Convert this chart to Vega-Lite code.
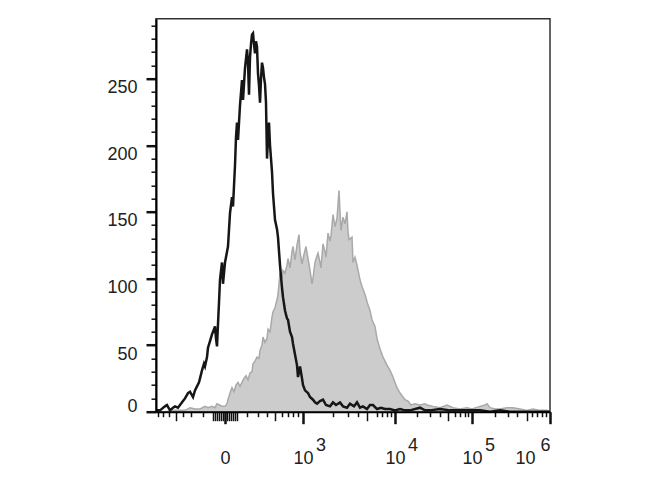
{
  "$schema": "https://vega.github.io/schema/vega-lite/v6.json",
  "width": 394,
  "height": 393,
  "autosize": {"type": "none"},
  "padding": {"left": 156, "top": 18.7, "right": 120, "bottom": 88.3},
  "background": "#ffffff",
  "config": {"view": {"stroke": "#333333", "strokeWidth": 1.5}},
  "datasets": {
    "stained": [
      {"channel":0,"count":0},{"channel":22.5,"count":0},{"channel":47.5,"count":1},{"channel":72.5,"count":1},{"channel":85,"count":3},{"channel":97.5,"count":2},{"channel":110,"count":2},{"channel":122.5,"count":4},{"channel":130,"count":3},{"channel":140,"count":4},{"channel":147.5,"count":3},{"channel":152.5,"count":6},{"channel":160,"count":5},{"channel":165,"count":4},{"channel":172.5,"count":4},{"channel":177.5,"count":6},{"channel":180,"count":9},{"channel":185,"count":14},{"channel":190,"count":18},{"channel":195,"count":15},{"channel":200,"count":20},{"channel":205,"count":22},{"channel":210,"count":19},{"channel":215,"count":22},{"channel":220,"count":25},{"channel":225,"count":27},{"channel":230,"count":24},{"channel":235,"count":29},{"channel":240,"count":30},{"channel":242.5,"count":36},{"channel":247.5,"count":38},{"channel":252.5,"count":41},{"channel":257.5,"count":40},{"channel":260,"count":46},{"channel":265,"count":50},{"channel":267.5,"count":56},{"channel":272.5,"count":52},{"channel":277.5,"count":55},{"channel":280,"count":62},{"channel":285,"count":60},{"channel":290,"count":71},{"channel":292.5,"count":75},{"channel":297.5,"count":78},{"channel":302.5,"count":84},{"channel":305,"count":88},{"channel":310,"count":104},{"channel":315,"count":100},{"channel":317.5,"count":106},{"channel":322.5,"count":104},{"channel":327.5,"count":110},{"channel":330,"count":115},{"channel":335,"count":108},{"channel":340,"count":120},{"channel":342.5,"count":124},{"channel":347.5,"count":114},{"channel":352.5,"count":125},{"channel":357.5,"count":133},{"channel":360,"count":120},{"channel":365,"count":111},{"channel":370,"count":118},{"channel":375,"count":124},{"channel":380,"count":115},{"channel":385,"count":106},{"channel":390,"count":96},{"channel":392.5,"count":100},{"channel":397.5,"count":112},{"channel":402.5,"count":117},{"channel":405,"count":119},{"channel":410,"count":112},{"channel":412.5,"count":108},{"channel":417.5,"count":126},{"channel":422.5,"count":120},{"channel":425,"count":116},{"channel":430,"count":134},{"channel":435,"count":128},{"channel":437.5,"count":132},{"channel":442.5,"count":148},{"channel":447.5,"count":139},{"channel":452.5,"count":145},{"channel":457.5,"count":166},{"channel":460,"count":150},{"channel":462.5,"count":136},{"channel":467.5,"count":146},{"channel":472.5,"count":141},{"channel":477.5,"count":150},{"channel":480,"count":135},{"channel":482.5,"count":129},{"channel":490,"count":131},{"channel":492.5,"count":112},{"channel":497.5,"count":116},{"channel":502.5,"count":110},{"channel":510,"count":99},{"channel":515,"count":94},{"channel":522.5,"count":88},{"channel":530,"count":80},{"channel":535,"count":76},{"channel":540,"count":69},{"channel":547.5,"count":64},{"channel":552.5,"count":55},{"channel":560,"count":47},{"channel":567.5,"count":41},{"channel":572.5,"count":38},{"channel":577.5,"count":35},{"channel":585,"count":31},{"channel":592.5,"count":26},{"channel":597.5,"count":22},{"channel":602.5,"count":18},{"channel":610,"count":14},{"channel":617.5,"count":11},{"channel":622.5,"count":9},{"channel":630,"count":8},{"channel":637.5,"count":5},{"channel":647.5,"count":6},{"channel":660,"count":5},{"channel":672.5,"count":6},{"channel":677.5,"count":5},{"channel":692.5,"count":4},{"channel":710,"count":3},{"channel":727.5,"count":5},{"channel":742.5,"count":3},{"channel":760,"count":2},{"channel":777.5,"count":3},{"channel":790,"count":2},{"channel":810,"count":4},{"channel":822.5,"count":5},{"channel":827.5,"count":6},{"channel":835,"count":3},{"channel":847.5,"count":2},{"channel":860,"count":2},{"channel":877.5,"count":3},{"channel":892.5,"count":3},{"channel":910,"count":2},{"channel":927.5,"count":1},{"channel":942.5,"count":2},{"channel":960,"count":1},{"channel":977.5,"count":1},{"channel":985,"count":0}
    ],
    "control": [
      {"channel":0,"count":1},{"channel":10,"count":1},{"channel":22.5,"count":4},{"channel":27.5,"count":5},{"channel":35,"count":1},{"channel":42.5,"count":3},{"channel":47.5,"count":4},{"channel":55,"count":3},{"channel":60,"count":5},{"channel":67.5,"count":8},{"channel":72.5,"count":10},{"channel":80,"count":14},{"channel":85,"count":15},{"channel":92.5,"count":11},{"channel":97.5,"count":16},{"channel":102.5,"count":19},{"channel":107.5,"count":22},{"channel":110,"count":25},{"channel":115,"count":31},{"channel":120,"count":36},{"channel":122.5,"count":34},{"channel":127.5,"count":41},{"channel":130,"count":48},{"channel":135,"count":53},{"channel":140,"count":58},{"channel":145,"count":62},{"channel":147.5,"count":64},{"channel":150,"count":55},{"channel":152.5,"count":49},{"channel":155,"count":66},{"channel":157.5,"count":82},{"channel":160,"count":99},{"channel":165,"count":112},{"channel":167.5,"count":96},{"channel":172.5,"count":112},{"channel":177.5,"count":120},{"channel":180,"count":124},{"channel":185,"count":149},{"channel":190,"count":161},{"channel":192.5,"count":154},{"channel":197.5,"count":185},{"channel":200,"count":206},{"channel":202.5,"count":217},{"channel":205,"count":204},{"channel":210,"count":230},{"channel":215,"count":249},{"channel":217.5,"count":234},{"channel":222.5,"count":258},{"channel":227.5,"count":272},{"channel":230,"count":262},{"channel":232.5,"count":238},{"channel":235,"count":266},{"channel":237.5,"count":276},{"channel":240,"count":283},{"channel":242.5,"count":284},{"channel":245,"count":276},{"channel":247.5,"count":269},{"channel":250,"count":278},{"channel":252.5,"count":274},{"channel":255,"count":254},{"channel":257.5,"count":245},{"channel":260,"count":232},{"channel":262.5,"count":250},{"channel":265,"count":262},{"channel":267.5,"count":258},{"channel":270,"count":251},{"channel":272.5,"count":246},{"channel":275,"count":232},{"channel":277.5,"count":190},{"channel":280,"count":205},{"channel":282.5,"count":217},{"channel":285,"count":200},{"channel":290,"count":180},{"channel":292.5,"count":164},{"channel":297.5,"count":144},{"channel":302.5,"count":137},{"channel":305,"count":131},{"channel":310,"count":110},{"channel":315,"count":93},{"channel":317.5,"count":86},{"channel":322.5,"count":76},{"channel":327.5,"count":70},{"channel":330,"count":69},{"channel":335,"count":60},{"channel":340,"count":56},{"channel":342.5,"count":51},{"channel":347.5,"count":43},{"channel":352.5,"count":35},{"channel":355,"count":26},{"channel":357.5,"count":30},{"channel":360,"count":34},{"channel":365,"count":25},{"channel":367.5,"count":20},{"channel":372.5,"count":16},{"channel":380,"count":14},{"channel":385,"count":11},{"channel":392.5,"count":9},{"channel":397.5,"count":7},{"channel":402.5,"count":6},{"channel":410,"count":8},{"channel":417.5,"count":9},{"channel":425,"count":5},{"channel":435,"count":4},{"channel":442.5,"count":7},{"channel":450,"count":5},{"channel":460,"count":7},{"channel":467.5,"count":4},{"channel":477.5,"count":3},{"channel":485,"count":6},{"channel":495,"count":4},{"channel":502.5,"count":7},{"channel":510,"count":3},{"channel":517.5,"count":4},{"channel":527.5,"count":2},{"channel":535,"count":5},{"channel":542.5,"count":5},{"channel":552.5,"count":2},{"channel":562.5,"count":3},{"channel":572.5,"count":2},{"channel":585,"count":2},{"channel":597.5,"count":1},{"channel":610,"count":2},{"channel":622.5,"count":1},{"channel":635,"count":1},{"channel":660,"count":3},{"channel":672.5,"count":1},{"channel":685,"count":1},{"channel":710,"count":2},{"channel":735,"count":1},{"channel":760,"count":1},{"channel":785,"count":1},{"channel":810,"count":1},{"channel":835,"count":0},{"channel":860,"count":1},{"channel":885,"count":0},{"channel":910,"count":0},{"channel":935,"count":0},{"channel":960,"count":0},{"channel":985,"count":0}
    ]
  },
  "encoding": {
    "x": {
      "field": "channel", "type": "quantitative",
      "scale": {"domain": [0, 985], "nice": false, "zero": false},
      "axis": {
        "title": null,
        "grid": false,
        "zindex": 1,
        "values": [5,17.5,32.5,50,67.5,87.5,117.5,142.5,147.5,152.5,157.5,162.5,167.5,172.5,177.5,182.5,187.5,192.5,197.5,202.5,227.5,255,277.5,297.5,315,330,342.5,355,367.5,442.5,480,505,527.5,552.5,565,577.5,587.5,597.5,652.5,685,710,730,747.5,760,772.5,780,790,847.5,880,902.5,927.5,940,952.5,965,975,985],
        "domainColor": "#000000",
        "domainWidth": 2,
        "tickColor": "#111111",
        "tickSize": {"condition": [
          {"test": "indexof([172.5,367.5,597.5,790,985], datum.value) >= 0", "value": 12},
          {"test": "indexof([50,297.5,527.5,730,927.5], datum.value) >= 0 || (datum.value >= 140 && datum.value <= 205)", "value": 9}
        ], "value": 5},
        "tickWidth": {"condition": {"test": "indexof([172.5,367.5,597.5,790,985], datum.value) >= 0", "value": 2.5}, "value": 1.5},
        "labelExpr": "datum.value == 172.5 ? ['', '0'] : datum.value == 367.5 ? ['\u200b\u00a0\u00a0\u00a0\u00a0\u00a0\u00a0\u00a03', '10'] : datum.value == 597.5 ? ['\u200b\u00a0\u00a0\u00a0\u00a0\u00a0\u00a0\u00a04', '10'] : datum.value == 790 ? ['\u200b\u00a0\u00a0\u00a0\u00a0\u00a0\u00a0\u00a05', '10'] : datum.value == 985 ? ['6', '10\u00a0\u00a0\u00a0\u200b'] : ''",
        "labelAlign": {"condition": {"test": "datum.value == 985", "value": "right"}, "value": "center"},
        "labelBaseline": "top",
        "labelFont": "Liberation Sans",
        "labelFontSize": 18,
        "labelColor": "#222222",
        "labelPadding": 13,
        "labelLineHeight": 13,
        "labelOverlap": false,
        "labelBound": false,
        "labelFlush": false
      }
    },
    "y": {
      "field": "count", "type": "quantitative",
      "scale": {"domain": [0, 295], "nice": false, "zero": true},
      "axis": {
        "title": null,
        "grid": false,
        "zindex": 1,
        "values": [0,10,20,30,40,50,60,70,80,90,100,110,120,130,140,150,160,170,180,190,200,210,220,230,240,250,260,270,280,290],
        "domainColor": "#000000",
        "domainWidth": 2,
        "tickColor": "#111111",
        "tickSize": {"condition": {"test": "datum.value % 50 == 0", "value": 10}, "value": 5},
        "tickWidth": {"condition": {"test": "datum.value % 50 == 0", "value": 2.5}, "value": 1.5},
        "labelExpr": "datum.value % 50 == 0 ? datum.label : ''",
        "labelBaseline": {"condition": {"test": "datum.value == 0", "value": "alphabetic"}, "value": "top"},
        "labelFont": "Liberation Sans",
        "labelFontSize": 18,
        "labelColor": "#222222",
        "labelPadding": 9,
        "labelOverlap": false,
        "labelBound": false,
        "labelFlush": false
      }
    }
  },
  "layer": [
    {
      "data": {"name": "stained"},
      "mark": {"type": "area", "fill": "#cccccc", "stroke": "#a9a9a9", "strokeWidth": 1.5, "interpolate": "linear"}
    },
    {
      "data": {"name": "control"},
      "mark": {"type": "line", "stroke": "#161616", "strokeWidth": 2.5, "interpolate": "linear"}
    }
  ]
}
